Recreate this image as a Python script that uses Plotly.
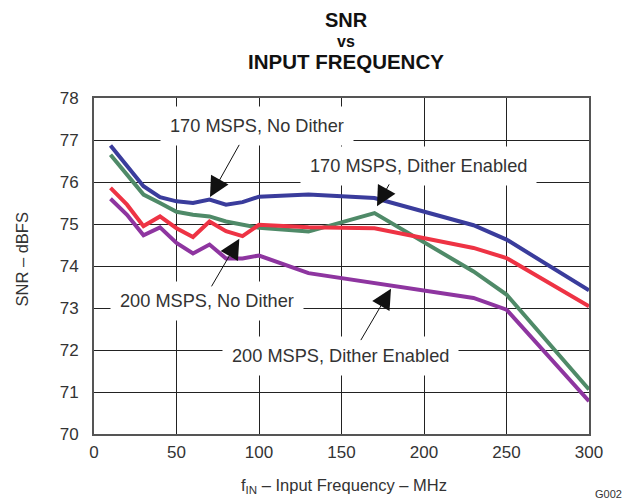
import plotly.graph_objects as go

freq = [10, 20, 30, 40, 50, 60, 70, 80, 90, 100, 130, 170, 230, 250, 300]
snr_170_nodither = [76.87, 76.40, 75.90, 75.64, 75.54, 75.50, 75.58, 75.46, 75.52, 75.65, 75.70, 75.62, 74.97, 74.63, 73.42]
snr_170_dither = [76.65, 76.18, 75.70, 75.50, 75.29, 75.22, 75.18, 75.06, 74.99, 74.91, 74.82, 75.26, 73.87, 73.32, 71.06]
snr_200_nodither = [75.86, 75.46, 74.95, 75.18, 74.90, 74.69, 75.06, 74.83, 74.71, 74.98, 74.92, 74.90, 74.43, 74.19, 73.04]
snr_200_dither = [75.60, 75.22, 74.73, 74.92, 74.55, 74.30, 74.51, 74.18, 74.18, 74.25, 73.83, 73.60, 73.24, 72.96, 70.78]

series_names = ["170 MSPS, No Dither", "170 MSPS, Dither Enabled",
                "200 MSPS, No Dither", "200 MSPS, Dither Enabled"]
series_values = [snr_170_nodither, snr_170_dither, snr_200_nodither, snr_200_dither]
colors = ["#3a3c9c", "#4f8a68", "#ee3344", "#8e35a0"]

x_ticks = [0, 50, 100, 150, 200, 250, 300]
y_ticks = [70, 71, 72, 73, 74, 75, 76, 77, 78]

FONT = "Liberation Sans, Arial, sans-serif"
TXT = "#333333"

fig = go.Figure()
for name, vals, col in zip(series_names, series_values, colors):
    fig.add_trace(go.Scatter(x=freq, y=vals, mode="lines", name=name,
                             line=dict(color=col, width=4), showlegend=False))

# label text (position of text center) and arrows (tail -> tip)
labels = [
    (series_names[0], 98.8, 77.34),
    (series_names[1], 196.5, 76.37),
    (series_names[2], 68.5, 73.16),
    (series_names[3], 149.5, 71.85),
]
arrows = [
    ((88.5, 76.92), (70.3, 75.64)),
    ((179.4, 75.98), (171.5, 75.42)),
    ((70.7, 73.48), (88.1, 74.65)),
    ((161.2, 72.20), (180.0, 73.46)),
]

annotations = []
for txt, lx, ly in labels:
    annotations.append(dict(x=lx, y=ly, xref="x", yref="y", text=txt, showarrow=False,
                            font=dict(family=FONT, size=18.2, color=TXT),
                            bgcolor="white", borderpad=9))
for (tx, ty), (hx, hy) in arrows:
    annotations.append(dict(x=hx, y=hy, ax=tx, ay=ty, xref="x", yref="y",
                            axref="x", ayref="y", text="", showarrow=True,
                            arrowhead=2, arrowsize=4.0, arrowwidth=1,
                            arrowcolor="#111111", standoff=0))

# titles
annotations += [
    dict(x=0.51, y=1.232, xref="paper", yref="paper", text="<b>SNR</b>", showarrow=False,
         font=dict(family=FONT, size=20, color="#111111"), yanchor="middle"),
    dict(x=0.51, y=1.168, xref="paper", yref="paper", text="<b>vs</b>", showarrow=False,
         font=dict(family=FONT, size=16, color="#111111"), yanchor="middle"),
    dict(x=0.51, y=1.108, xref="paper", yref="paper", text="<b>INPUT FREQUENCY</b>",
         showarrow=False, font=dict(family=FONT, size=20.5, color="#111111"), yanchor="middle"),
    dict(x=0.505, y=-0.155, xref="paper", yref="paper",
         text="f<sub>IN</sub> – Input Frequency – MHz", showarrow=False,
         font=dict(family=FONT, size=16.5, color=TXT), yanchor="middle"),
    dict(x=-0.145, y=0.52, xref="paper", yref="paper", text="SNR – dBFS",
         showarrow=False, textangle=-90,
         font=dict(family=FONT, size=16.5, color=TXT), xanchor="center", yanchor="middle"),
    dict(x=1.04, y=-0.178, xref="paper", yref="paper", text="G002", showarrow=False,
         font=dict(family=FONT, size=11, color=TXT), yanchor="middle", xanchor="center"),
]

# the page is shown with a small body offset, so the figure is slightly smaller
fig.update_layout(
    width=622, height=493,
    margin=dict(l=86, r=41, t=90, b=67),
    paper_bgcolor="white", plot_bgcolor="white",
    annotations=annotations,
    font=dict(family=FONT, color=TXT),
)
fig.update_xaxes(range=[0, 300], tickvals=x_ticks, ticktext=[str(v) for v in x_ticks],
                 showgrid=True, gridcolor="#222222", gridwidth=1,
                 showline=True, linecolor="#555555", linewidth=2, mirror=True,
                 ticks="", zeroline=False, ticklabelstandoff=2,
                 tickfont=dict(family=FONT, size=17, color=TXT))
fig.update_yaxes(range=[70, 78], tickvals=y_ticks, ticktext=[str(v) for v in y_ticks],
                 showgrid=True, gridcolor="#222222", gridwidth=1,
                 showline=True, linecolor="#555555", linewidth=2, mirror=True,
                 ticks="", zeroline=False, ticklabelstandoff=10,
                 tickfont=dict(family=FONT, size=17, color=TXT))

fig.write_html("out.html")
